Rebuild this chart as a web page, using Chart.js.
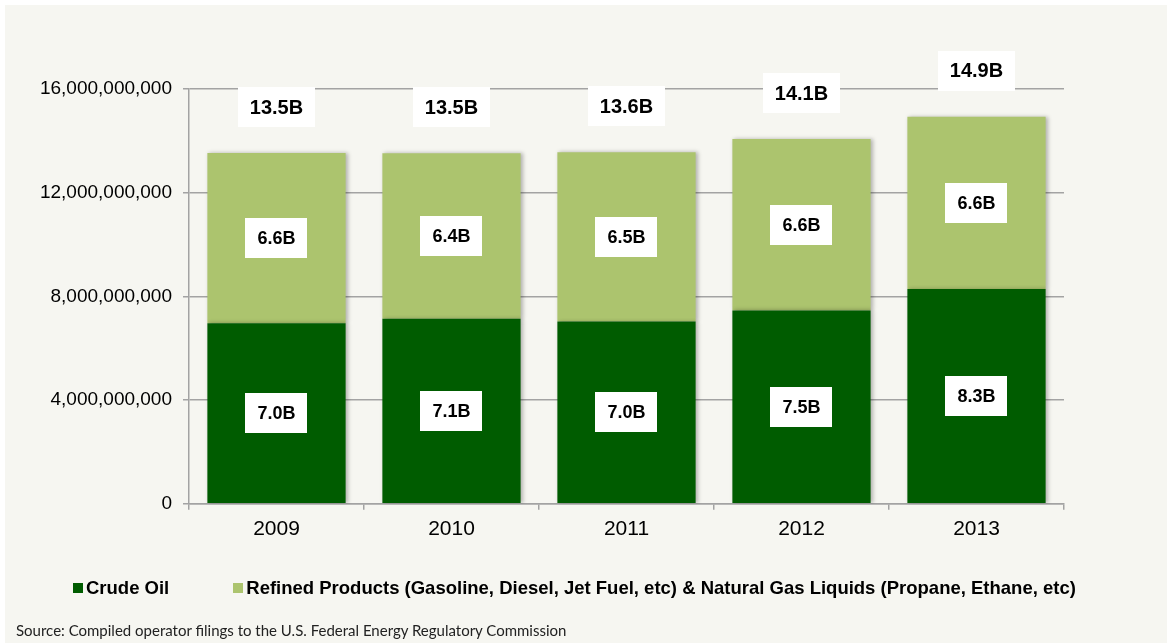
<!DOCTYPE html>
<html>
<head>
<meta charset="utf-8">
<script src="https://cdn.jsdelivr.net/npm/chart.js@4.4.1/dist/chart.umd.min.js"></script>
<style>
  body { margin: 0; background: #fff; }
  #wrap {
    position: absolute; left: 5px; top: 5px;
    width: 1162px; height: 638px;
    background: #f6f6f1;
  }
  #legend {
    position: absolute; left: 68px; top: 572px;
    display: flex; align-items: center;
    font: bold 18.5px 'Liberation Sans', Arial, sans-serif; color: #000;
    line-height: 22px; white-space: nowrap;
  }
  #legend .item { display: flex; align-items: center; margin-right: 64px; }
  #legend .box { width: 10px; height: 10px; margin-right: 3px; }
  #source {
    position: absolute; left: 11px; top: 616px;
    font: 15px Lato, 'Noto Sans', sans-serif; color: #222;
    white-space: nowrap;
  }
</style>
</head>
<body>
<div id="wrap">
  <canvas id="myChart"></canvas>
  <div id="legend"></div>
  <div id="source">Source: Compiled operator filings to the U.S. Federal Energy Regulatory Commission</div>
</div>
<script>
const years = ['2009', '2010', '2011', '2012', '2013'];
const crudeOil = [6.96e9, 7.14e9, 7.03e9, 7.46e9, 8.29e9];
const refinedProducts = [6.57e9, 6.38e9, 6.53e9, 6.61e9, 6.64e9];
const yTicks = [0, 4e9, 8e9, 12e9, 16e9];

const seriesNames = [
    'Crude Oil',
    'Refined Products (Gasoline, Diesel, Jet Fuel, etc) & Natural Gas Liquids (Propane, Ethane, etc)'
];
const seriesColors = ['#005c00', '#acc46e'];

const fontFamily = "'Liberation Sans', Arial, sans-serif";
const gridColor = '#a3a3a3';

function fmtB(v) {
    return (v / 1e9).toFixed(1) + 'B';
}

// soft shadow on the bars
const barShadow = {
    id: 'barShadow',
    beforeDatasetDraw(chart) {
        const c = chart.ctx;
        c.save();
        c.shadowColor = 'rgba(0,0,0,0.28)';
        c.shadowBlur = 4;
        c.shadowOffsetX = 2;
        c.shadowOffsetY = 0;
    },
    afterDatasetDraw(chart) {
        chart.ctx.restore();
    }
};

function drawLabel(c, text, x, y, size) {
    c.font = 'bold ' + size + 'px ' + fontFamily;
    const w = c.measureText(text).width + 24;
    const h = 40;
    c.fillStyle = '#fff';
    c.fillRect(Math.round(x - w / 2), Math.round(y - h / 2), Math.round(w), h);
    c.fillStyle = '#000';
    c.textAlign = 'center';
    c.textBaseline = 'middle';
    c.fillText(text, x, y + 1);
}

// white value boxes: one per segment, plus the total above each bar
const valueBoxes = {
    id: 'valueBoxes',
    afterDatasetsDraw(chart) {
        const c = chart.ctx;
        const yScale = chart.scales.y;
        c.save();
        chart.data.datasets.forEach((ds, i) => {
            const meta = chart.getDatasetMeta(i);
            meta.data.forEach((bar, j) => {
                drawLabel(c, fmtB(ds.data[j]), bar.x, (bar.y + bar.base) / 2, 18);
            });
        });
        const last = chart.getDatasetMeta(chart.data.datasets.length - 1);
        last.data.forEach((bar, j) => {
            const total = crudeOil[j] + refinedProducts[j];
            drawLabel(c, fmtB(total), bar.x, yScale.getPixelForValue(total) - 46, 20);
        });
        c.restore();
    }
};

let ctx = document.getElementById('myChart').getContext('2d');
let myChart = new Chart(ctx, {
    type: 'bar',
    data: {
        labels: years,
        datasets: [{
            label: seriesNames[0],
            data: crudeOil,
            backgroundColor: seriesColors[0],
            borderWidth: 0
        }, {
            label: seriesNames[1],
            data: refinedProducts,
            backgroundColor: seriesColors[1],
            borderWidth: 0
        }]
    },
    options: {
        responsive: true,
        maintainAspectRatio: false,
        animation: false,
        categoryPercentage: 0.79,
        barPercentage: 1,
        layout: {
            padding: { top: 84, right: 103, bottom: 94, left: 11 }
        },
        plugins: {
            legend: { display: false },
            tooltip: { enabled: false }
        },
        scales: {
            x: {
                stacked: true,
                grid: {
                    offset: true,
                    drawOnChartArea: false,
                    drawTicks: true,
                    tickLength: 6,
                    color: gridColor,
                    lineWidth: 1.5
                },
                border: { display: true, color: gridColor, width: 1.5 },
                ticks: {
                    padding: 7,
                    color: '#000',
                    font: { family: fontFamily, size: 21 }
                }
            },
            y: {
                stacked: true,
                min: 0,
                max: 16e9,
                afterFit(scale) {
                    scale.width = 173;
                },
                afterBuildTicks(scale) {
                    scale.ticks = yTicks.map(v => ({ value: v }));
                },
                grid: {
                    color: gridColor,
                    lineWidth: 1.5,
                    tickLength: 6
                },
                border: { display: true, color: gridColor, width: 1.5 },
                ticks: {
                    padding: 11,
                    color: '#000',
                    font: { family: fontFamily, size: 19 },
                    callback: v => v.toLocaleString('en-US')
                }
            }
        }
    },
    plugins: [barShadow, valueBoxes]
});

// html legend built from the datasets
const legendEl = document.getElementById('legend');
myChart.data.datasets.forEach(ds => {
    const item = document.createElement('div');
    item.className = 'item';
    const box = document.createElement('span');
    box.className = 'box';
    box.style.background = ds.backgroundColor;
    item.appendChild(box);
    item.appendChild(document.createTextNode(ds.label));
    legendEl.appendChild(item);
});
</script>
</body>
</html>
